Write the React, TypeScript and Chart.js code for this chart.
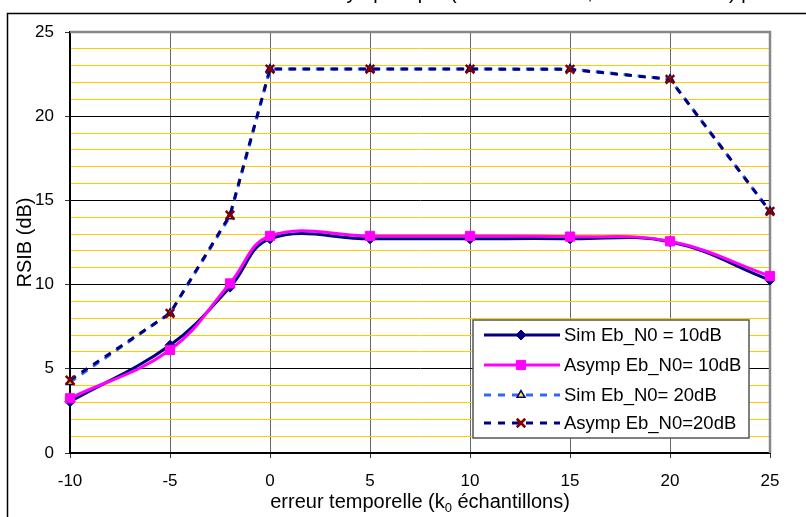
import React, { useEffect, useRef } from "react";
import { Chart, registerables } from "chart.js";
import { drawPoint } from "chart.js/helpers";

Chart.register(...registerables);

const xValues = [-10, -5, -2, 0, 5, 10, 15, 20, 25];
const sim10 = [3.05, 6.4, 9.85, 12.72, 12.72, 12.72, 12.72, 12.55, 10.27];
const asymp10 = [3.25, 6.12, 10.07, 12.89, 12.89, 12.89, 12.85, 12.57, 10.51];
const sim20 = [4.2, 8.3, 14.05, 22.8, 22.8, 22.8, 22.8, 22.2, 14.35];
const asymp20 = [4.33, 8.29, 14.13, 22.8, 22.8, 22.8, 22.78, 22.19, 14.35];
const seriesLabels = ["Sim Eb_N0 = 10dB", "Asymp Eb_N0= 10dB", "Sim Eb_N0= 20dB", "Asymp Eb_N0=20dB"];
const xTitleParts = ["erreur temporelle (k", "0", " échantillons)"];
const yTitle = "RSIB (dB)";
const topTitlePrefix = "RSIB simulé et asymptotique ";
const topTitleRest = "(Eb N0 = 10 dB, Eb N0 = 20 dB) pour";

const FONT = "'Liberation Sans', Arial, sans-serif";

const pts = (arr: number[]) => xValues.map((x, i) => ({ x, y: arr[i] }));

const decorPlugin = {
  id: "decor",
  beforeDatasetsDraw(chart: any) {
    const { ctx, chartArea: a } = chart;
    ctx.save();
    ctx.strokeStyle = "#888888";
    ctx.lineWidth = 2.5;
    ctx.beginPath();
    ctx.moveTo(a.left, a.top);
    ctx.lineTo(a.right, a.top);
    ctx.lineTo(a.right, a.bottom);
    ctx.stroke();
    ctx.restore();
  },
  afterDraw(chart: any) {
    const { ctx, chartArea: a } = chart;
    ctx.save();
    // outer frame
    ctx.strokeStyle = "#000";
    ctx.lineWidth = 1.5;
    ctx.strokeRect(7.5, 13.5, 900, 600);

    // clipped top title (only descenders visible)
    ctx.font = `20px ${FONT}`;
    ctx.fillStyle = "#000";
    ctx.textBaseline = "alphabetic";
    ctx.textAlign = "left";
    const pw = ctx.measureText(topTitlePrefix).width;
    ctx.fillText(topTitlePrefix + topTitleRest, 450 - pw, -1);

    // x title
    ctx.font = `20px ${FONT}`;
    const w1 = ctx.measureText(xTitleParts[0]).width;
    ctx.font = `13px ${FONT}`;
    const w2 = ctx.measureText(xTitleParts[1]).width;
    ctx.font = `20px ${FONT}`;
    const w3 = ctx.measureText(xTitleParts[2]).width;
    const total = w1 + w2 + w3;
    const x0 = (a.left + a.right) / 2 - total / 2;
    const by = 508;
    ctx.fillText(xTitleParts[0], x0, by);
    ctx.font = `13px ${FONT}`;
    ctx.fillText(xTitleParts[1], x0 + w1, by + 4);
    ctx.font = `20px ${FONT}`;
    ctx.fillText(xTitleParts[2], x0 + w1 + w2, by);

    // y title
    ctx.save();
    ctx.translate(25, (a.top + a.bottom) / 2);
    ctx.rotate(-Math.PI / 2);
    ctx.textAlign = "center";
    ctx.textBaseline = "middle";
    ctx.font = `20px ${FONT}`;
    ctx.fillText(yTitle, 0, 0);
    ctx.restore();

    // legend
    const lx = 473, ly = 320, lw = 276, lh = 118;
    ctx.fillStyle = "#fff";
    ctx.fillRect(lx, ly, lw, lh);
    ctx.strokeStyle = "#555";
    ctx.lineWidth = 1.5;
    ctx.strokeRect(lx, ly, lw, lh);
    const rows = [335, 365, 395, 423];
    chart.data.datasets.forEach((ds: any, i: number) => {
      const y = rows[i];
      ctx.save();
      ctx.strokeStyle = ds.borderColor;
      ctx.lineWidth = ds.borderWidth;
      ctx.setLineDash(ds.borderDash || []);
      ctx.beginPath();
      ctx.moveTo(484, y);
      ctx.lineTo(560, y);
      ctx.stroke();
      ctx.setLineDash([]);
      ctx.fillStyle = ds.pointBackgroundColor;
      ctx.strokeStyle = ds.pointBorderColor;
      ctx.lineWidth = ds.pointBorderWidth;
      drawPoint(ctx, { pointStyle: ds.pointStyle, radius: ds.pointRadius, rotation: 0, borderWidth: ds.pointBorderWidth }, 521, y);
      ctx.restore();
      ctx.fillStyle = "#000";
      ctx.font = `18.5px ${FONT}`;
      ctx.textBaseline = "middle";
      ctx.textAlign = "left";
      ctx.fillText(ds.label, 564, y + 1);
    });
    ctx.restore();
  },
};

export default function App() {
  const ref = useRef<HTMLCanvasElement | null>(null);
  useEffect(() => {
    if (!ref.current) return;
    const chart = new Chart(ref.current, {
      type: "line",
      data: {
        datasets: [
          {
            label: seriesLabels[0],
            data: pts(sim10),
            borderColor: "#000080",
            borderWidth: 3,
            tension: 0.4,
            pointStyle: "rectRot",
            pointRadius: 5,
            pointBackgroundColor: "#000080",
            pointBorderColor: "#000080",
            pointBorderWidth: 1,
            order: 4,
            clip: false,
          },
          {
            label: seriesLabels[1],
            data: pts(asymp10),
            borderColor: "#FF00FF",
            borderWidth: 3,
            tension: 0.4,
            pointStyle: "rect",
            pointRadius: 6.5,
            pointBackgroundColor: "#FF00FF",
            pointBorderColor: "#FF00FF",
            pointBorderWidth: 1,
            order: 3,
            clip: false,
          },
          {
            label: seriesLabels[2],
            data: pts(sim20),
            borderColor: "#3366FF",
            borderWidth: 3,
            borderDash: [7, 7],
            tension: 0,
            pointStyle: "triangle",
            pointRadius: 4.5,
            pointBackgroundColor: "#FFFF00",
            pointBorderColor: "#000080",
            pointBorderWidth: 1.5,
            order: 2,
            clip: false,
          },
          {
            label: seriesLabels[3],
            data: pts(asymp20),
            borderColor: "#000080",
            borderWidth: 3,
            borderDash: [7, 7],
            tension: 0,
            pointStyle: "crossRot",
            pointRadius: 6,
            pointBackgroundColor: "#800000",
            pointBorderColor: "#800000",
            pointBorderWidth: 2.5,
            order: 1,
            clip: false,
          },
        ],
      } as any,
      options: {
        responsive: false,
        animation: false,
        layout: { padding: { left: 0, top: 32, right: 36, bottom: 0 } },
        plugins: { legend: { display: false }, tooltip: { enabled: false }, title: { display: false } },
        scales: {
          x: {
            type: "linear",
            min: -10,
            max: 25,
            afterFit: (s: any) => { s.height = 64; },
            ticks: { stepSize: 5, color: "#000", font: { size: 17, family: FONT }, padding: 13, maxRotation: 0 },
            grid: { color: "#666", lineWidth: 1, tickLength: 5, tickColor: "#333" },
            border: { color: "#000", width: 2 },
          },
          y: {
            min: 0,
            max: 25,
            afterFit: (s: any) => { s.width = 70; },
            ticks: {
              stepSize: 1,
              autoSkip: false,
              color: "#000",
              font: { size: 17, family: FONT },
              padding: 11,
              callback: (v: any) => (Number(v) % 5 === 0 ? String(v) : ""),
            },
            grid: {
              color: (c: any) => (c.tick && c.tick.value % 5 === 0 ? "#000" : "#FFCC00"),
              tickColor: (c: any) => (c.tick && c.tick.value % 5 === 0 ? "#333" : "rgba(0,0,0,0)"),
              lineWidth: 1,
              tickLength: 5,
            },
            border: { color: "#000", width: 2 },
          },
        },
      } as any,
      plugins: [decorPlugin],
    });
    return () => chart.destroy();
  }, []);
  return (
    <div style={{ position: "fixed", left: 0, top: 0, width: 806, height: 517, background: "#fff" }}>
      <canvas ref={ref} width={806} height={517} style={{ display: "block" }} />
    </div>
  );
}
